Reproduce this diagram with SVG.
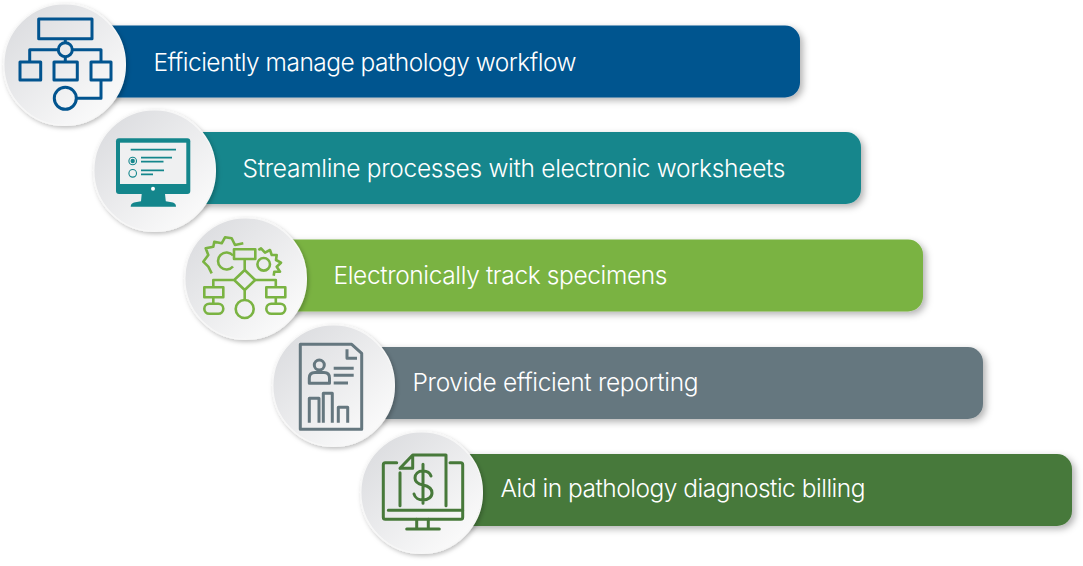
<svg xmlns="http://www.w3.org/2000/svg" width="1083" height="566" viewBox="0 0 1083 566">
<style>
.bar{filter:url(#barShadow)}
.disc{fill:url(#discFill);stroke:#f7f7f7;stroke-width:1.5;filter:url(#discShadow)}
.label{font-family:"Inter","Liberation Sans",sans-serif;font-size:24.5px;font-weight:300;fill:#fff}
.ico{fill:none;stroke-width:3;stroke-linejoin:round}
.blue{stroke:#02548f}.teal{stroke:#14868c}.lime{stroke:#7ab342;stroke-width:2.6}.slate{stroke:#65777f}.forest{stroke:#47793a}
</style>
<defs>
<linearGradient id="discFill" x1="0.12" y1="0.1" x2="0.88" y2="0.9"><stop offset="0" stop-color="#dcdde0"/><stop offset="1" stop-color="#fbfbfb"/></linearGradient>
<filter id="barShadow" x="-5%" y="-20%" width="110%" height="150%"><feDropShadow dx="3" dy="3" stdDeviation="3.5" flood-color="#000" flood-opacity=".3"/></filter>
<filter id="discShadow" x="-15%" y="-15%" width="135%" height="135%"><feDropShadow dx="1.5" dy="2" stdDeviation="2.2" flood-color="#000" flood-opacity=".25"/></filter>
</defs>
<g id="connectors"/>
<g id="node-1">
<rect class="bar" x="90" y="25.5" width="710" height="72" rx="15" fill="#02548f"/>
<circle class="disc" cx="64.5" cy="64.5" r="60.8"/>
<g class="ico blue">
<rect x="38.7" y="19" width="53.3" height="19.7"/>
<circle cx="65.3" cy="49.7" r="7"/>
<path d="M58.3 49.7H29.7V62M72.3 49.7H101V62M65.3 38.7V42.7M65.3 56.7V62M101 80V98.3H76.3"/>
<rect x="20" y="62" width="20.7" height="18"/><rect x="54" y="62" width="23.3" height="18"/><rect x="91" y="62" width="20" height="18"/>
<circle cx="65.3" cy="98.3" r="11"/>
</g>
<text class="label" x="153.5" y="71" textLength="423">Efficiently manage pathology workflow</text>
</g>
<g id="node-2">
<rect class="bar" x="180" y="132" width="681" height="72" rx="15" fill="#14868c"/>
<circle class="disc" cx="154.5" cy="170.5" r="60.8"/>
<rect x="116" y="138.3" width="74.3" height="55.7" rx="3" fill="#14868c"/>
<rect x="120" y="142.7" width="66.3" height="41.3" fill="#eff0f1"/>
<circle cx="153" cy="188.7" r="2" fill="#fff"/>
<path d="M141.7 194H165L165.8 201.3L173 202.5Q176 203.5 176 206.7H130.7Q130.7 203.5 134 202.5L141 201.3Z" fill="#14868c"/>
<path d="M130.7 149.7H176M141 157.7H172M141 161.7H163.5M141 170.3H164M141 174.3H153" fill="none" stroke="#14868c" stroke-width="1.7"/>
<circle cx="132.7" cy="161" r="3.8" fill="none" stroke="#14868c" stroke-width="1.1"/><circle cx="132.7" cy="161" r="2.2" fill="#14868c"/>
<circle cx="132.7" cy="173.3" r="3.8" fill="none" stroke="#14868c" stroke-width="1.1"/>
<text class="label" x="242.5" y="177" textLength="543">Streamline processes with electronic worksheets</text>
</g>
<g id="node-3">
<rect class="bar" x="270" y="239.5" width="653" height="72" rx="15" fill="#7ab342"/>
<circle class="disc" cx="245.5" cy="278.5" r="60.8"/>
<g class="ico lime">
<path d="M211.7 273.3L208.3 266.7L203.3 261.7L208.3 255L205.7 248.3L213.3 246.7L214.3 241.7L221.7 243.3L225 237.3L231.7 238.3L235 245L243.3 243.3"/>
<path d="M258.3 250L261 248.3L265 252.7L270 250L271.7 255L276.7 255L276 260L281 262.7L276.7 266.7L280 271.7L274.3 271.7L273.7 275.7"/>
<path d="M233 255.5A8.5 8.5 0 1 0 233 266.5"/>
<circle cx="263.7" cy="264.3" r="6.3"/>
<rect x="234" y="249.3" width="21.3" height="9.7"/>
<path d="M244.7 259V270M244.7 270L255.2 280L244.7 290L234.2 280ZM234.2 280H213.3V287.3M255.2 280H275.8V287.3M213.3 297.3V303.7M275.8 297.3V303.7M244.7 290V300"/>
<rect x="204.3" y="287.3" width="19" height="10"/><rect x="266.3" y="287.3" width="19" height="10"/>
<rect x="204.3" y="303.7" width="19" height="10" rx="5"/><rect x="266.3" y="303.7" width="19" height="10" rx="5"/>
<circle cx="244.7" cy="309" r="9"/>
</g>
<text class="label" x="333.5" y="284" textLength="334">Electronically track specimens</text>
</g>
<g id="node-4">
<rect class="bar" x="360" y="347" width="623" height="72" rx="15" fill="#65777f"/>
<circle class="disc" cx="333.5" cy="385.5" r="60.8"/>
<g class="ico slate">
<path d="M300.3 344.3H351.7L361.7 353.3V429.3H300.3Z"/>
<path d="M347 349.3V358.3H357"/>
<circle cx="319.3" cy="365" r="5"/>
<path d="M309.3 383.3V378Q309.3 372.5 315 372.5H324Q329.5 372.5 329.5 378V383.3Z"/>
<path d="M333.7 368.3H353.7M333.7 375.3H353.7M333.7 383H348"/>
<path d="M309.3 422.7V398.3H319V422.7M323.3 422.7V393.3H332.3V422.7M338.3 422.7V407.3H347.7V422.7"/>
</g>
<text class="label" x="412.5" y="391" textLength="286">Provide efficient reporting</text>
</g>
<g id="node-5">
<rect class="bar" x="450" y="454" width="622" height="72" rx="15" fill="#47793a"/>
<circle class="disc" cx="421.5" cy="492.5" r="60.8"/>
<g class="ico forest" stroke-linecap="round">
<path d="M396.7 462.7H385.3Q383.3 462.7 383.3 464.7V517.3Q383.3 519.3 385.3 519.3H460.7Q462.7 519.3 462.7 517.3V464.7Q462.7 462.7 460.7 462.7H450"/>
<path d="M388.3 510.3H462.7M416.7 519.3V529M428.3 519.3V529M406.7 529H439.3"/>
<path d="M400 468.3L412.7 455H446V505.7M400 472.7V505.7M400 468.3H412.7V455"/>
<path d="M431 476C430 473 427 471 423 471C418 471 415 474 415 478C415 482 418 484 423 485C428 486 432 488 432 493C432 497 428 500 423 500C419 500 415 498 414 494M423 464.3V503.3"/>
</g>
<text class="label" x="500.5" y="497" textLength="365">Aid in pathology diagnostic billing</text>
</g>
</svg>
